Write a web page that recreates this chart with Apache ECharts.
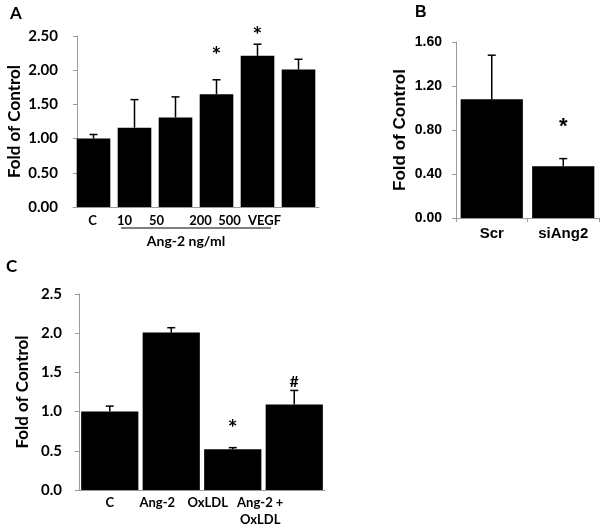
<!DOCTYPE html>
<html><head><meta charset="utf-8">
<script src="https://cdn.jsdelivr.net/npm/echarts@6/dist/echarts.min.js"></script>
<style>html,body{margin:0;padding:0;background:#fff}#c{width:600px;height:526px}</style>
</head><body><div id="c"></div>
<script>
// ---- Panel A ----
const catsA = ['C', '10', '50', '200', '500', 'VEGF'];
const valsA = [1.00, 1.16, 1.31, 1.65, 2.21, 2.01];
const errA = [0.06, 0.41, 0.30, 0.21, 0.17, 0.15];
const markA = ['', '', '', '*', '*', ''];
const markYA = [null, null, null, 2.21, 2.50, null];
const ticksA = [0, 0.5, 1.0, 1.5, 2.0, 2.5];
const groupLabelA = 'Ang-2 ng/ml';

// ---- Panel B ----
const catsB = ['Scr', 'siAng2'];
const valsB = [1.08, 0.47];
const errB = [0.40, 0.07];
const markB = ['', '*'];
const markYB = [null, 0.83];
const ticksB = [0, 0.4, 0.8, 1.2, 1.6];

// ---- Panel C ----
const catsC = ['C', 'Ang-2', 'OxLDL', 'Ang-2 +\nOxLDL'];
const valsC = [1.00, 2.01, 0.52, 1.09];
const errC = [0.07, 0.06, 0.02, 0.18];
const markC = ['', '', '*', '#'];
const markYC = [null, null, 0.78, 1.38];
const ticksC = [0, 0.5, 1.0, 1.5, 2.0, 2.5];

const yTitle = 'Fold of Control';

// label shifts (layout only, px; negative = left)
const shiftA = [-1, -10, -19, -16, -28, -34];
const shiftC = [0, -14, -25, -34];

const fA = 'Lato, "Open Sans", sans-serif';
const fB = '"Liberation Sans", Arial, sans-serif';
const axisGray = '#9a9a9a';

function shiftedFormatter(cats) {
  return function (v) {
    const idx = cats.indexOf(v);
    const key = 's' + idx;
    return v.split('\n').map(l => '{' + key + '|' + l + '}').join('\n');
  };
}
function shiftedRich(cats, shifts, base) {
  const r = {};
  cats.forEach((c, i) => {
    const s = shifts[i];
    r['s' + i] = Object.assign({}, base, {
      padding: s < 0 ? [0, -2 * s, 0, 0] : [0, 0, 0, 2 * s]
    });
  });
  return r;
}

function errRender(params, api) {
  const x = api.value(0);
  const base = api.coord([x, api.value(1)]);
  const top = api.coord([x, api.value(2)]);
  const hw = 4;
  return {
    type: 'group', children: [
      { type: 'line', shape: { x1: base[0], y1: base[1], x2: top[0], y2: top[1] }, style: { stroke: '#000', lineWidth: 1.5 } },
      { type: 'line', shape: { x1: top[0] - hw, y1: top[1], x2: top[0] + hw, y2: top[1] }, style: { stroke: '#000', lineWidth: 1.5 } }
    ]
  };
}
function markRender(font, rows, starSize, otherSize) {
  return function (params, api) {
    const p = api.coord([api.value(0), api.value(1)]);
    const t = rows[params.dataIndex][2];
    const size = t === '*' ? starSize : otherSize;
    return {
      type: 'text', x: p[0], y: p[1],
      style: { text: t, fill: '#000', font: 'bold ' + size + 'px ' + font, align: 'center', verticalAlign: 'middle' }
    };
  };
}

function errData(vals, errs) { return vals.map((v, i) => [i, v, v + errs[i]]); }
function markData(marks, ys) {
  const out = [];
  marks.forEach((m, i) => { if (m) out.push([i, ys[i], m]); });
  return out;
}
const mdA = markData(markA, markYA), mdB = markData(markB, markYB), mdC = markData(markC, markYC);

function yAxisCfg(gridIndex, ticks, digits, font, size, margin, nameGap, extra) {
  return Object.assign({
    type: 'value', gridIndex: gridIndex,
    min: ticks[0], max: ticks[ticks.length - 1], interval: ticks[1] - ticks[0],
    splitLine: { show: false },
    axisLine: { show: true, lineStyle: { color: axisGray, width: 1 } },
    axisTick: { show: true, length: 4, lineStyle: { color: axisGray } },
    axisLabel: { formatter: v => v.toFixed(digits), color: '#000', fontFamily: font, fontWeight: 'bold', fontSize: size, margin: margin },
    name: yTitle, nameLocation: 'middle', nameRotate: 90, nameGap: nameGap,
    nameTextStyle: { color: '#000', fontFamily: font, fontWeight: 'bold', fontSize: 17 }
  }, extra || {});
}

const option = {
  animation: false,
  backgroundColor: '#fff',
  title: [
    { text: 'A', left: 5, top: 0, textStyle: { fontFamily: fA, fontWeight: 'bold', fontSize: 17, color: '#000' } },
    { text: 'B', left: 410, top: 0, textStyle: { fontFamily: fB, fontWeight: 'bold', fontSize: 16, color: '#000' } },
    { text: 'C', left: 1, top: 253, textStyle: { fontFamily: fA, fontWeight: 'bold', fontSize: 17, color: '#000' } }
  ],
  grid: [
    { left: 73, right: 281, top: 36, bottom: 319 },
    { left: 456, right: 1, top: 42, bottom: 308 },
    { left: 79, right: 275, top: 294, bottom: 30 }
  ],
  xAxis: [
    {
      type: 'category', gridIndex: 0, data: catsA,
      axisLine: { lineStyle: { color: axisGray } }, axisTick: { show: false },
      axisLabel: { margin: 7, interval: 0, formatter: shiftedFormatter(catsA),
        rich: shiftedRich(catsA, shiftA, { fontFamily: fA, fontWeight: 'bold', fontSize: 13, color: '#000' }) }
    },
    {
      type: 'category', gridIndex: 1, data: catsB,
      axisLine: { lineStyle: { color: axisGray } },
      axisTick: { show: true, length: 4, lineStyle: { color: axisGray } },
      axisLabel: { margin: 8, color: '#000', fontFamily: fB, fontWeight: 'bold', fontSize: 15 }
    },
    {
      type: 'category', gridIndex: 2, data: catsC,
      axisLine: { lineStyle: { color: axisGray } }, axisTick: { show: false },
      axisLabel: { margin: 4, interval: 0, formatter: shiftedFormatter(catsC),
        rich: shiftedRich(catsC, shiftC, { fontFamily: fA, fontWeight: 'bold', fontSize: 13, color: '#000', lineHeight: 17 }) }
    }
  ],
  yAxis: [
    yAxisCfg(0, ticksA, 2, fA, 15, 19, 54, { offset: -4 }),
    yAxisCfg(1, ticksB, 2, fB, 14, 14, 47),
    yAxisCfg(2, ticksC, 1, fA, 15, 17, 48)
  ],
  graphic: [
    { type: 'line', shape: { x1: 121, y1: 228, x2: 271, y2: 228 }, style: { stroke: '#808080', lineWidth: 2 } },
    { type: 'text', x: 186, y: 241, style: { text: groupLabelA, font: 'bold 14px ' + fA, fill: '#000', align: 'center', verticalAlign: 'middle' } }
  ],
  series: [
    { type: 'bar', xAxisIndex: 0, yAxisIndex: 0, data: valsA, barCategoryGap: '18%', itemStyle: { color: '#000' } },
    { type: 'custom', xAxisIndex: 0, yAxisIndex: 0, data: errData(valsA, errA), renderItem: errRender, z: 3 },
    { type: 'custom', xAxisIndex: 0, yAxisIndex: 0, data: mdA, renderItem: markRender(fA, mdA, 23, 16), z: 3 },

    { type: 'bar', xAxisIndex: 1, yAxisIndex: 1, data: valsB, barCategoryGap: '13%', itemStyle: { color: '#000' } },
    { type: 'custom', xAxisIndex: 1, yAxisIndex: 1, data: errData(valsB, errB), renderItem: errRender, z: 3 },
    { type: 'custom', xAxisIndex: 1, yAxisIndex: 1, data: mdB, renderItem: markRender(fB, mdB, 22, 16), z: 3 },

    { type: 'bar', xAxisIndex: 2, yAxisIndex: 2, data: valsC, barCategoryGap: '7%', itemStyle: { color: '#000' } },
    { type: 'custom', xAxisIndex: 2, yAxisIndex: 2, data: errData(valsC, errC), renderItem: errRender, z: 3 },
    { type: 'custom', xAxisIndex: 2, yAxisIndex: 2, data: mdC, renderItem: markRender(fA, mdC, 23, 16), z: 3 }
  ]
};

const chart = echarts.init(document.getElementById('c'), null, { renderer: 'canvas' });
chart.setOption(option);
</script>
</body></html>
